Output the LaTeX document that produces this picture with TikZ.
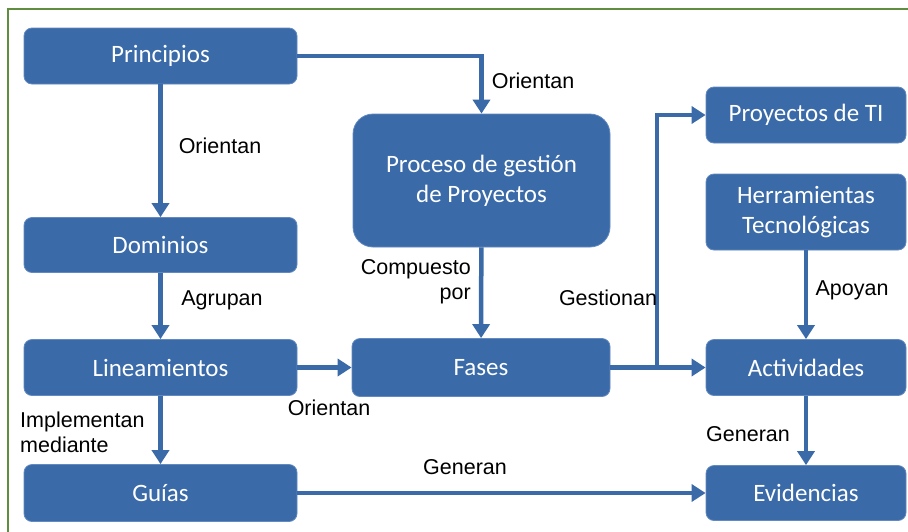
\documentclass[tikz,border=0pt]{standalone}
\usepackage{fontspec}
\setmainfont{Liberation Sans}
\newfontfamily\calibri{Carlito}
\usetikzlibrary{arrows.meta,positioning}
\definecolor{azul}{HTML}{3A6AA8}
\definecolor{borde}{HTML}{6289C0}
\definecolor{marco}{HTML}{5E8E3E}

\begin{document}
\begin{tikzpicture}[x=1pt,y=-1pt,
  caja/.style={draw=borde,line width=0.8pt,fill=azul,rounded corners=8pt,text=white,
    font=\calibri\fontsize{25}{30}\selectfont,align=center,inner sep=0pt},
  etiqueta/.style={font=\fontsize{21.5}{25}\selectfont,inner sep=0pt},
  flecha/.style={draw=azul,line width=4.5pt,-{Triangle[width=17pt,length=14pt]}}]
\useasboundingbox (0,0) rectangle (908,531);
\clip (0,0) rectangle (908,531);
\draw[marco,line width=2pt] (8,9) rectangle (940,560);
\node[caja,minimum width=273pt,minimum height=56pt] (pri) at (160.5,56) {Principios};
\node[caja,minimum width=273pt,minimum height=55pt] (dom) at (160.5,245) {Dominios};
\node[caja,minimum width=273pt,minimum height=56pt] (lin) at (160.5,367.5) {Lineamientos};
\node[caja,minimum width=273pt,minimum height=57pt] (gui) at (160.5,493) {Guías};
\node[caja,minimum width=257pt,minimum height=133pt,rounded corners=20pt] (proc) at (481.5,180.5) {Proceso de gestión\\de Proyectos};
\node[caja,minimum width=258pt,minimum height=58pt] (fas) at (481,367.5) {Fases};
\node[caja,minimum width=200pt,minimum height=56pt] (pro) at (806,115) {Proyectos de TI};
\node[caja,minimum width=200pt,minimum height=76pt] (her) at (806,212) {Herramientas\\Tecnológicas};
\node[caja,minimum width=200pt,minimum height=56pt] (act) at (806,367.5) {Actividades};
\node[caja,minimum width=200pt,minimum height=55pt] (evi) at (806,493) {Evidencias};
\coordinate (gest) at (657,367.5);
\draw[flecha] (pri.east) -| (proc.north);
\draw[flecha] (pri) -- (dom);
\draw[flecha] (dom) -- (lin);
\draw[flecha] (lin) -- (gui);
\draw[flecha] (lin) -- (fas);
\draw[flecha] (proc) -- (fas);
\draw[flecha] (fas) -- (act);
\draw[flecha] (gest) |- (pro.west);
\draw[flecha] (her) -- (act);
\draw[flecha] (act) -- (evi);
\draw[flecha] (gui) -- (evi);
\node[etiqueta] (l1) at (533,81) {Orientan};
\node[etiqueta] (l2) at (220,146) {Orientan};
\node[etiqueta] (l3) at (222,300) {Agrupan};
\node[etiqueta,align=left,anchor=west] (l4) at (20,432) {Implementan\\mediante};
\node[etiqueta] (l5) at (329,408) {Orientan};
\node[etiqueta,align=right,anchor=east] (l6) at (471,282) {Compuesto\\por};
\node[etiqueta] (l7) at (608,298) {Gestionan};
\node[etiqueta] (l8) at (852,290) {Apoyan};
\node[etiqueta] (l9) at (748,434) {Generan};
\node[etiqueta] (l10) at (465,467) {Generan};
\end{tikzpicture}
\end{document}
